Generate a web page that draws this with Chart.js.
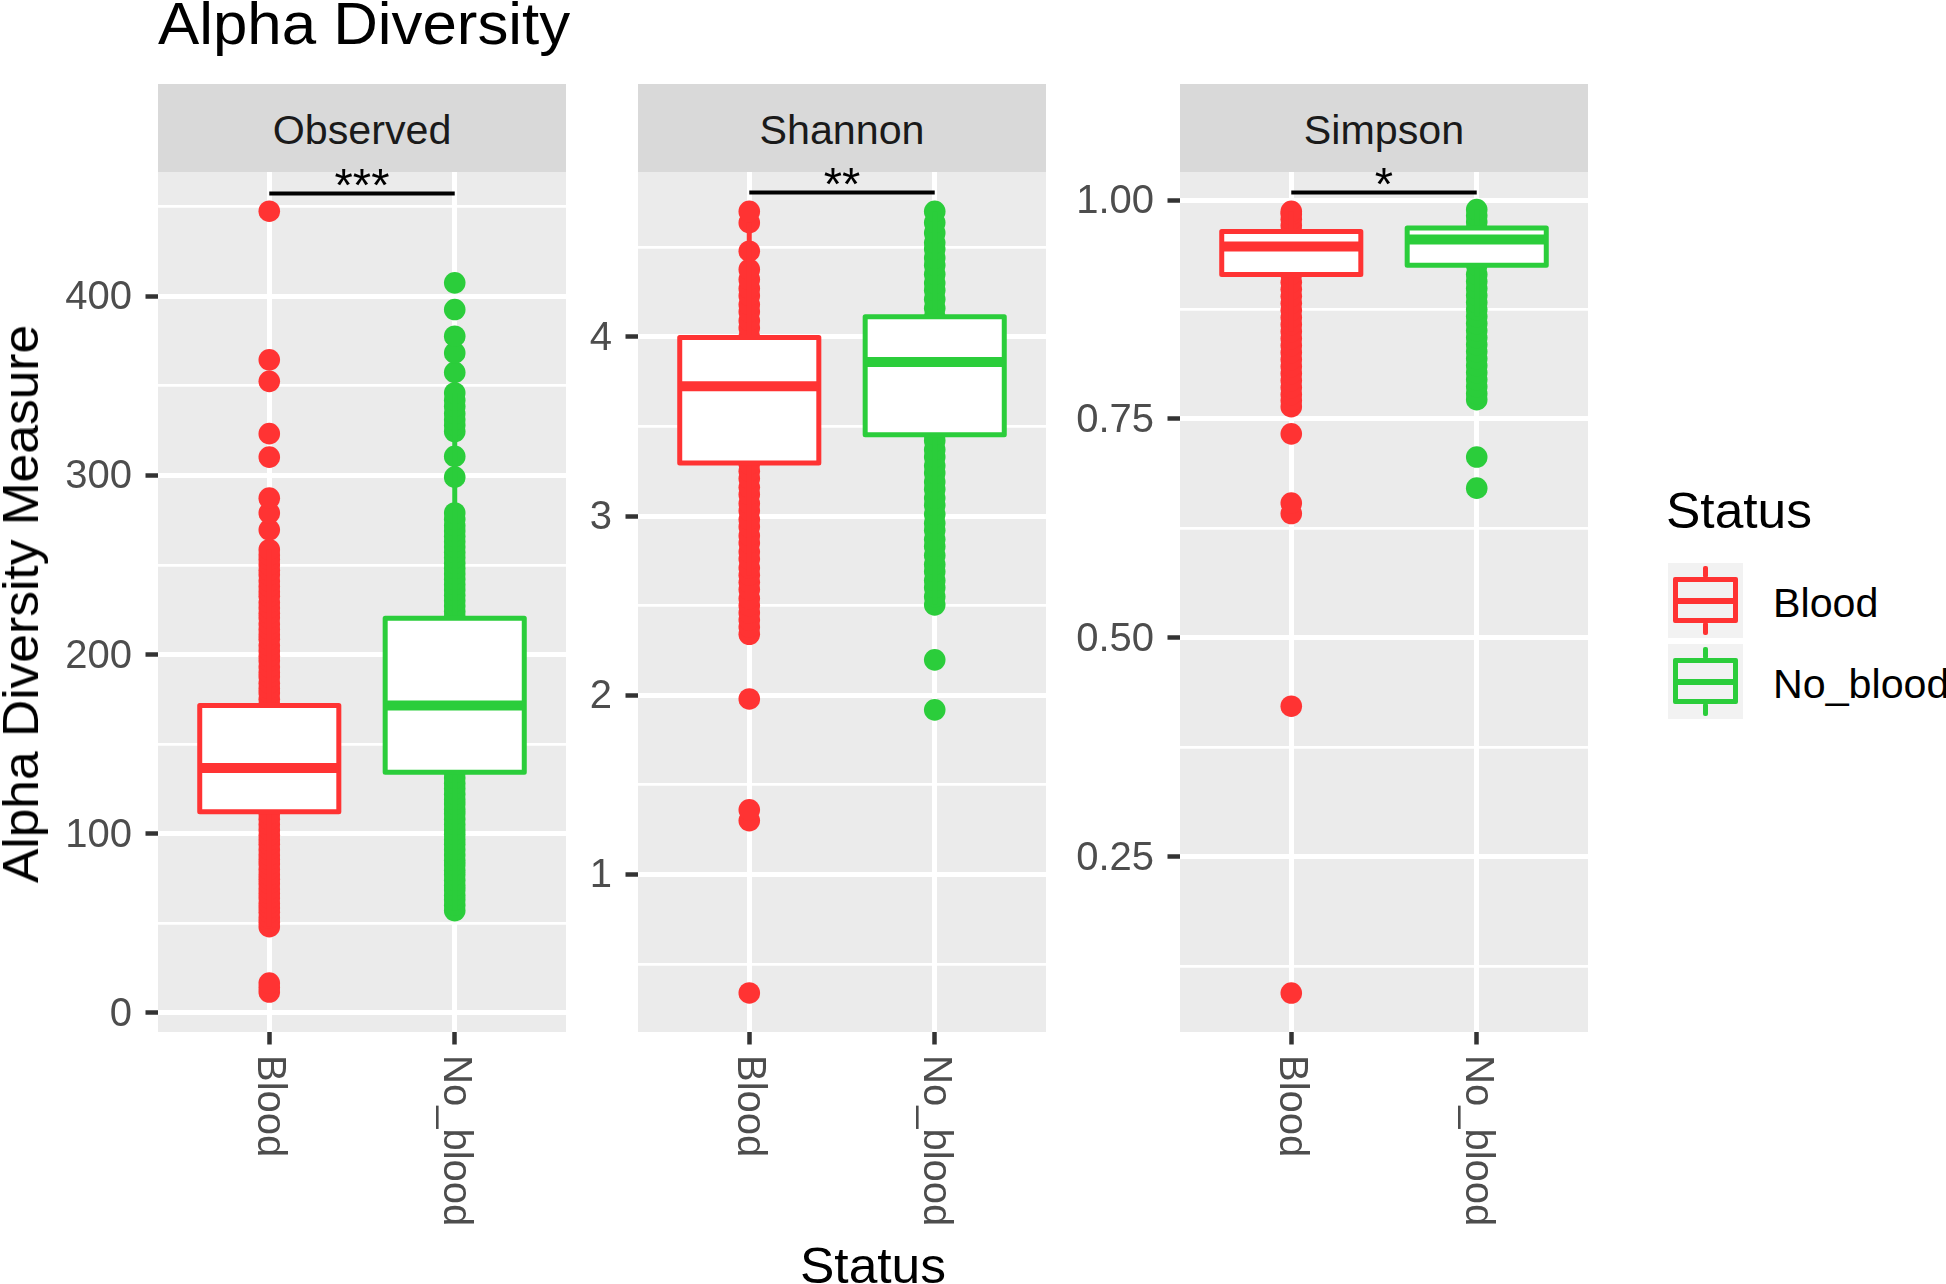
<!DOCTYPE html>
<html>
<head>
<meta charset="utf-8">
<title>Alpha Diversity</title>
<script src="https://cdn.jsdelivr.net/npm/chart.js@4.4.1/dist/chart.umd.min.js"></script>
<style>
  html, body { margin: 0; padding: 0; background: #ffffff; }
  body {
    width: 1946px; height: 1284px; position: relative; overflow: hidden;
    font-family: "Liberation Sans", Arial, sans-serif;
  }
  .txt { position: absolute; line-height: 1; white-space: nowrap; color: #000000; }
  .strip { position: absolute; background: #D9D9D9; }
  .key { position: absolute; background: #F2F2F2; }
  .glyph { position: absolute; box-sizing: border-box; }
  canvas { position: absolute; }
</style>
</head>
<body>
<script>
// ---- data ----
const statusGroups = ['Blood', 'No_blood'];
const statusColors = ['#FF3333', '#2BCD3B'];
const facetNames = ['Observed', 'Shannon', 'Simpson'];
const sigLabels = ['***', '**', '*'];
const sigHeights = [457.4, 4.806, 1.0086];

// sample values per group (dense columns read as overlapping dots)
const observedBlood = [11.5, 14, 16.5, 48, 50.5, 53, 56, 58.5, 61, 64, 66.5, 69, 72, 74.5, 77, 80, 83, 85.5, 88,
  91, 94, 96.5, 99, 102, 105, 108, 111, 118, 126, 133, 140, 148, 157, 165, 172, 175, 178.5, 181, 184, 187.5,
  190, 193, 196.5, 199, 202, 205, 208.5, 211, 214, 217, 220.5, 223, 226, 229, 232.5, 235, 238, 241, 244.5,
  247, 250, 253, 255.5, 258.5, 269.6, 279, 287.3, 310.2, 323.3, 352.5, 364.5, 447.5];
const observedNoBlood = [57, 60, 63, 65.5, 68.5, 71, 74, 77, 79.5, 82.5, 85, 88, 91, 94, 96.5, 99.5, 102, 105,
  108, 111, 113.5, 116.5, 119, 122, 125, 128, 131, 134, 142, 151, 160, 171, 181, 192, 203, 213, 221, 224, 227,
  230, 233, 236, 239, 242, 245, 248, 251, 254, 257, 260, 263, 266, 269, 272, 275.5, 279, 299, 310.6, 324.5,
  328, 331, 334.5, 338.5, 342, 346, 357.5, 368.4, 377.7, 392.6, 407.5];
const shannonBlood = [0.338, 1.30, 1.36, 1.979, 2.34, 2.38, 2.42, 2.46, 2.5, 2.54, 2.59, 2.63, 2.67, 2.71, 2.76,
  2.8, 2.85, 2.89, 2.94, 2.98, 3.03, 3.07, 3.12, 3.16, 3.21, 3.25, 3.29, 3.4, 3.52, 3.63, 3.72, 3.84, 3.95, 4.0,
  4.05, 4.09, 4.14, 4.18, 4.23, 4.27, 4.32, 4.376, 4.478, 4.637, 4.70];
const shannonNoBlood = [1.918, 2.197, 2.504, 2.55, 2.6, 2.64, 2.69, 2.73, 2.78, 2.83, 2.87, 2.92, 2.96, 3.01,
  3.06, 3.1, 3.15, 3.19, 3.24, 3.28, 3.33, 3.37, 3.42, 3.454, 3.56, 3.67, 3.78, 3.86, 3.97, 4.06, 4.112, 4.16,
  4.21, 4.26, 4.3, 4.35, 4.4, 4.44, 4.49, 4.525, 4.58, 4.637, 4.70];
const simpsonBlood = [0.0945, 0.422, 0.642, 0.654, 0.733, 0.764, 0.771, 0.778, 0.786, 0.794, 0.802, 0.81, 0.818,
  0.826, 0.834, 0.842, 0.85, 0.858, 0.866, 0.874, 0.882, 0.89, 0.898, 0.906, 0.915, 0.925, 0.936, 0.947, 0.956,
  0.964, 0.971, 0.978, 0.984, 0.987];
const simpsonNoBlood = [0.671, 0.7065, 0.772, 0.779, 0.787, 0.795, 0.803, 0.811, 0.819, 0.827, 0.835, 0.843,
  0.851, 0.859, 0.867, 0.875, 0.883, 0.891, 0.899, 0.907, 0.915, 0.9255, 0.935, 0.945, 0.955, 0.962, 0.968,
  0.975, 0.982, 0.989];

// box stats: [lower whisker, q1, median, q3, upper whisker]
const observedBloodBox = [48, 112.2, 136.6, 171.5, 258.5];
const observedNoBloodBox = [57, 134.2, 171.5, 220.2, 346];
const shannonBloodBox = [2.67, 3.296, 3.724, 3.996, 4.637];
const shannonNoBloodBox = [2.504, 3.454, 3.86, 4.112, 4.70];
const simpsonBloodBox = [0.85, 0.915, 0.947, 0.964, 0.987];
const simpsonNoBloodBox = [0.867, 0.9255, 0.955, 0.968, 0.989];

// axes
const observedTicks = [0, 100, 200, 300, 400];
const observedMinor = [50, 150, 250, 350, 450];
const observedLimits = [-10.8, 469.4];
const shannonTicks = [1, 2, 3, 4];
const shannonMinor = [0.5, 1.5, 2.5, 3.5, 4.5];
const shannonLimits = [0.12, 4.92];
const simpsonTicks = [0.25, 0.5, 0.75, 1.0];
const simpsonMinor = [0.125, 0.375, 0.625, 0.875];
const simpsonLimits = [0.05, 1.032];

// ---- layout ----
const FONT = '"Liberation Sans", Arial, sans-serif';
const PANEL_LEFT = [158, 638, 1180];
const PANEL_W = 408;
const PANEL_TOP = 172;
const PANEL_BOTTOM = 1032;
const CANVAS_TOP = 100;
const CANVAS_BOTTOM = 1240;
const AXIS_W = 110;
const PAD_RIGHT = 20;
const STRETCH = 1.03; // the source text is set a little wider than Liberation Sans

Chart.defaults.font.family = FONT;

const facets = [
  { points: [observedBlood, observedNoBlood], boxes: [observedBloodBox, observedNoBloodBox],
    ticks: observedTicks, minor: observedMinor, limits: observedLimits, fmt: v => String(v) },
  { points: [shannonBlood, shannonNoBlood], boxes: [shannonBloodBox, shannonNoBloodBox],
    ticks: shannonTicks, minor: shannonMinor, limits: shannonLimits, fmt: v => String(v) },
  { points: [simpsonBlood, simpsonNoBlood], boxes: [simpsonBloodBox, simpsonNoBloodBox],
    ticks: simpsonTicks, minor: simpsonMinor, limits: simpsonLimits, fmt: v => v.toFixed(2) }
];

function addText(str, x, baseline, size, opts = {}) {
  const el = document.createElement('div');
  el.className = 'txt';
  el.textContent = str;
  el.style.fontSize = size + 'px';
  el.style.left = x + 'px';
  el.style.top = (baseline - 0.8465 * size) + 'px';
  if (opts.color) el.style.color = opts.color;
  if (opts.center) {
    el.style.transform = 'translateX(-50%) scaleX(' + STRETCH + ')';
  } else {
    el.style.transformOrigin = '0 0';
    el.style.transform = 'scaleX(' + STRETCH + ')';
  }
  document.body.appendChild(el);
  return el;
}

function addBlock(cls, left, top, width, height, style = {}) {
  const el = document.createElement('div');
  el.className = cls;
  Object.assign(el.style, { left: left + 'px', top: top + 'px', width: width + 'px', height: height + 'px' }, style);
  document.body.appendChild(el);
  return el;
}

// panel grey background, drawn before the grid
const panelBackground = {
  id: 'panelBackground',
  beforeDraw(chart) {
    const { ctx, chartArea: a } = chart;
    ctx.save();
    ctx.fillStyle = '#EBEBEB';
    ctx.fillRect(a.left, a.top, a.right - a.left, a.bottom - a.top);
    ctx.restore();
  }
};

// rotated x tick labels (reading top to bottom)
const xLabels = {
  id: 'xLabels',
  afterDraw(chart) {
    const { ctx, chartArea: a } = chart;
    const x = chart.scales.x;
    ctx.save();
    ctx.fillStyle = '#4D4D4D';
    ctx.font = '40px ' + FONT;
    ctx.textAlign = 'left';
    ctx.textBaseline = 'middle';
    statusGroups.forEach((g, k) => {
      ctx.save();
      ctx.translate(x.getPixelForValue(k + 1), a.bottom + 23);
      ctx.rotate(Math.PI / 2);
      ctx.fillText(g, 0, 0);
      ctx.restore();
    });
    ctx.restore();
  }
};

function boxPlugin(f) {
  return {
    id: 'boxPlot',
    afterDatasetsDraw(chart) {
      const { ctx } = chart;
      const { x, y } = chart.scales;
      f.boxes.forEach((b, k) => {
        const cx = x.getPixelForValue(k + 1);
        const left = x.getPixelForValue(k + 1 - 0.375);
        const right = x.getPixelForValue(k + 1 + 0.375);
        const [lo, q1, med, q3, hi] = b.map(v => y.getPixelForValue(v));
        ctx.save();
        ctx.strokeStyle = statusColors[k];
        ctx.lineJoin = 'round';
        ctx.lineWidth = 5;
        ctx.beginPath();
        ctx.moveTo(cx, q3); ctx.lineTo(cx, hi);
        ctx.moveTo(cx, q1); ctx.lineTo(cx, lo);
        ctx.stroke();
        ctx.fillStyle = '#FFFFFF';
        ctx.fillRect(left, q3, right - left, q1 - q3);
        ctx.strokeRect(left, q3, right - left, q1 - q3);
        ctx.lineWidth = 10;
        ctx.beginPath();
        ctx.moveTo(left, med); ctx.lineTo(right, med);
        ctx.stroke();
        ctx.restore();
      });
    }
  };
}

function sigPlugin(i) {
  return {
    id: 'significance',
    afterDraw(chart) {
      const { ctx } = chart;
      const { x, y } = chart.scales;
      const py = y.getPixelForValue(sigHeights[i]);
      const x1 = x.getPixelForValue(1), x2 = x.getPixelForValue(2);
      ctx.save();
      ctx.strokeStyle = '#000000';
      ctx.lineWidth = 4;
      ctx.beginPath();
      ctx.moveTo(x1, py); ctx.lineTo(x2, py);
      ctx.stroke();
      ctx.fillStyle = '#000000';
      ctx.font = '47px ' + FONT;
      ctx.textAlign = 'center';
      ctx.textBaseline = 'alphabetic';
      ctx.fillText(sigLabels[i], (x1 + x2) / 2, py + 8);
      ctx.restore();
    }
  };
}

function makeFacet(i, f) {
  const w = AXIS_W + PANEL_W + PAD_RIGHT;
  const h = CANVAS_BOTTOM - CANVAS_TOP;
  const canvas = document.createElement('canvas');
  canvas.width = w;
  canvas.height = h;
  canvas.style.left = (PANEL_LEFT[i] - AXIS_W) + 'px';
  canvas.style.top = CANVAS_TOP + 'px';
  canvas.style.width = w + 'px';
  canvas.style.height = h + 'px';
  document.body.appendChild(canvas);

  const yTicks = f.ticks.map(v => ({ value: v, minor: false }))
    .concat(f.minor.map(v => ({ value: v, minor: true })))
    .sort((a, b) => a.value - b.value);
  const isMinor = c => !!(c.tick && c.tick.minor);

  new Chart(canvas, {
    type: 'scatter',
    data: {
      datasets: statusGroups.map((g, k) => ({
        label: g,
        data: f.points[k].map(v => ({ x: k + 1, y: v })),
        backgroundColor: statusColors[k],
        borderWidth: 0,
        pointRadius: 10.8,
        pointHoverRadius: 10.8
      }))
    },
    options: {
      responsive: false,
      animation: false,
      events: [],
      layout: { padding: { top: PANEL_TOP - CANVAS_TOP, right: PAD_RIGHT, left: 0, bottom: 0 } },
      plugins: { legend: { display: false }, tooltip: { enabled: false }, title: { display: false } },
      scales: {
        x: {
          type: 'linear',
          position: 'bottom',
          min: 0.4,
          max: 2.6,
          afterBuildTicks: s => { s.ticks = statusGroups.map((g, k) => ({ value: k + 1 })); },
          afterFit: s => { s.height = CANVAS_BOTTOM - PANEL_BOTTOM; },
          border: { display: false },
          grid: { color: '#FFFFFF', lineWidth: 5, tickColor: '#333333', tickLength: 12.5, tickWidth: 4.5 },
          ticks: { padding: 0, autoSkip: false, callback: () => '' }
        },
        y: {
          type: 'linear',
          position: 'left',
          min: f.limits[0],
          max: f.limits[1],
          afterBuildTicks: s => { s.ticks = yTicks.map(t => Object.assign({}, t)); },
          afterFit: s => { s.width = AXIS_W; },
          border: { display: false },
          grid: {
            color: '#FFFFFF',
            lineWidth: c => isMinor(c) ? 2.7 : 5,
            tickColor: c => isMinor(c) ? 'rgba(0,0,0,0)' : '#333333',
            tickLength: 12.5,
            tickWidth: 4.5
          },
          ticks: {
            autoSkip: false,
            padding: 13.5,
            labelOffset: 2,
            color: '#4D4D4D',
            font: { family: FONT, size: 40 },
            callback: (v, idx, ticks) => ticks[idx].minor ? '' : f.fmt(v)
          }
        }
      }
    },
    plugins: [panelBackground, boxPlugin(f), xLabels, sigPlugin(i)]
  });
}

// title and facet strips
addText('Alpha Diversity', 158, 45, 60);
facetNames.forEach((name, i) => {
  addBlock('strip', PANEL_LEFT[i], 84, PANEL_W, 88);
  addText(name, PANEL_LEFT[i] + PANEL_W / 2, 144, 40, { color: '#1A1A1A', center: true });
});

facets.forEach((f, i) => makeFacet(i, f));

// axis titles
addText('Status', (PANEL_LEFT[0] + PANEL_LEFT[2] + PANEL_W) / 2, 1283, 50, { center: true });
const yTitle = addBlock('txt', 20.7 - 450, 604 - 25, 900, 50,
  { fontSize: '50px', textAlign: 'center', transform: 'rotate(-90deg) scaleX(' + STRETCH + ')' });
yTitle.textContent = 'Alpha Diversity Measure';

// legend
addText('Status', 1666, 528, 50);
statusGroups.forEach((g, k) => {
  const top = 563 + k * 81;
  const col = statusColors[k];
  addBlock('key', 1668, top, 75, 75);
  addBlock('glyph', 1703.3, top + 3, 4.7, 12, { background: col, borderRadius: '2px' });
  addBlock('glyph', 1703.3, top + 59, 4.7, 13, { background: col, borderRadius: '2px' });
  addBlock('glyph', 1672.7, top + 14.3, 65.6, 46, { border: '5.5px solid ' + col, borderRadius: '2px' });
  addBlock('glyph', 1672.7, top + 35, 65.6, 6, { background: col });
  addText(g, 1773, 616.7 + k * 81, 40);
});
</script>
</body>
</html>
